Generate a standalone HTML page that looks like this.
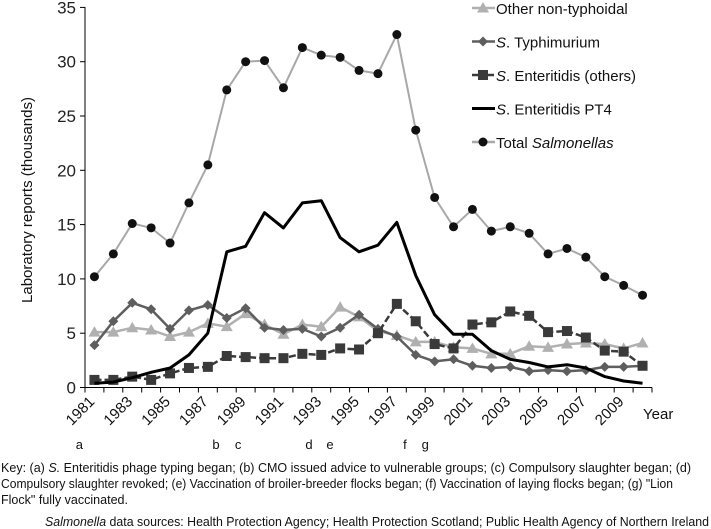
<!DOCTYPE html>
<html><head><meta charset="utf-8"><style>
body{margin:0;background:#fff;width:711px;height:528px;overflow:hidden;font-family:"Liberation Sans",sans-serif;position:relative;}
svg text{font-family:"Liberation Sans",sans-serif;}
.fn{position:absolute;white-space:nowrap;font-size:13px;color:#111;transform-origin:0 0;}
</style></head><body>
<svg id="chart" width="711" height="528" style="position:absolute;left:0;top:0"></svg>
<script>
const years=[1981,1982,1983,1984,1985,1986,1987,1988,1989,1990,1991,1992,1993,1994,1995,1996,1997,1998,1999,2000,2001,2002,2003,2004,2005,2006,2007,2008,2009,2010];
const totalSalmonellas=[10.2,12.3,15.1,14.7,13.3,17.0,20.5,27.4,30.0,30.1,27.6,31.3,30.6,30.4,29.2,28.9,32.5,23.7,17.5,14.8,16.4,14.4,14.8,14.2,12.3,12.8,12.0,10.2,9.4,8.5];
const enteritidisPT4=[0.4,0.5,0.9,1.4,1.8,3.0,5.0,12.5,13.0,16.1,14.7,17.0,17.2,13.8,12.5,13.1,15.2,10.3,6.7,4.9,4.9,3.4,2.6,2.3,1.9,2.1,1.8,1.0,0.6,0.4];
const typhimurium=[3.9,6.1,7.8,7.2,5.4,7.1,7.6,6.4,7.3,5.5,5.3,5.4,4.7,5.5,6.7,5.4,4.7,3.0,2.4,2.6,2.0,1.8,1.9,1.5,1.6,1.5,1.6,1.9,1.9,2.0];
const otherNonTyphoidal=[5.1,5.1,5.5,5.3,4.7,5.1,5.9,5.6,6.8,5.8,4.9,5.8,5.6,7.4,6.5,5.2,4.8,4.2,4.2,3.7,3.6,3.1,3.1,3.8,3.7,4.0,4.1,4.0,3.6,4.1];
const enteritidisOthers=[0.7,0.7,1.0,0.7,1.3,1.8,1.9,2.9,2.8,2.7,2.7,3.1,3.0,3.6,3.5,5.0,7.7,6.1,4.0,3.6,5.8,6.0,7.0,6.6,5.1,5.2,4.6,3.4,3.3,2.0];
const yTicks=[0,5,10,15,20,25,30,35];
const eventLetters=['a','b','c','d','e','f','g'];
const eventYears=[1980.2,1987.43,1988.6,1992.35,1993.46,1997.43,1998.5];

const NS='http://www.w3.org/2000/svg';
const svg=document.getElementById('chart');
const X0=85,STEP=18.9,Y0=387.5,PPU=10.86;
const xs=i=>X0+STEP*(i+0.5);
const xy=yr=>X0+STEP*(yr-1981+0.5);
const ys=v=>Y0-v*PPU;
function mk(tag,attrs,parent){const e=document.createElementNS(NS,tag);for(const k in attrs)e.setAttribute(k,attrs[k]);(parent||svg).appendChild(e);return e;}

const ax=mk('path',{d:`M${X0} 7V${Y0}H${X0+STEP*30}`,stroke:'#000','stroke-width':1,fill:'none'});


yTicks.forEach(t=>{
  mk('line',{x1:X0-5,x2:X0,y1:ys(t),y2:ys(t),stroke:'#000'});
  const tx=mk('text',{x:X0-9,y:ys(t)+6,'text-anchor':'end','font-size':17,fill:'#222'});
  tx.textContent=t;
  
  
});
for(let i=0;i<=30;i++){mk('line',{x1:X0+STEP*i,x2:X0+STEP*i,y1:Y0,y2:Y0+5,stroke:'#000'});}
years.forEach((yr,i)=>{
  if(i%2)return;
  const x=xs(i)+1,y=Y0+15;
  const tx=mk('text',{x:x,y:y,'text-anchor':'end','font-size':15,fill:'#111',transform:`rotate(-45 ${x} ${y})`});
  tx.textContent=yr;
  
  
});
const yl=mk('text',{x:643,y:419,'font-size':15,fill:'#111'});yl.textContent='Year';


const yt=mk('text',{x:0,y:0,'font-size':15,fill:'#111','text-anchor':'middle',transform:'translate(32 200) rotate(-90)'});
yt.textContent='Laboratory reports (thousands)';



eventLetters.forEach((l,i)=>{
  const t=mk('text',{x:xy(eventYears[i]),y:449,'font-size':13,'text-anchor':'middle',fill:'#111'});
  t.textContent=l;
  
  
});

function marker(type,x,y,color,g){
  if(type==='circle')return mk('circle',{cx:x,cy:y,r:4.5,fill:'#111'},g);
  if(type==='square')return mk('rect',{x:x-5,y:y-5,width:10,height:10,fill:'#3a3a3a'},g);
  if(type==='diamond')return mk('path',{d:`M${x} ${y-5}L${x+5} ${y}L${x} ${y+5}L${x-5} ${y}Z`,fill:'#5e5e5e'},g);
  if(type==='triangle')return mk('path',{d:`M${x} ${y-6}L${x+6} ${y+4.5}L${x-6} ${y+4.5}Z`,fill:'#b0b0b0'},g);
}
function series(data,color,width,type,dash,name){
  const g=mk('g',{});
  
  
  let d='';
  data.forEach((v,i)=>{d+=(i?'L':'M')+xs(i).toFixed(1)+' '+ys(v).toFixed(1);});
  const p=mk('path',{d:d,stroke:color,'stroke-width':width,fill:'none','stroke-linejoin':'round'},g);
  if(dash)p.setAttribute('stroke-dasharray',dash);
  if(type)data.forEach((v,i)=>marker(type,xs(i),ys(v),color,g));
}
series(otherNonTyphoidal,'#b0b0b0',2.5,'triangle',null,'series-other-non-typhoidal');
series(typhimurium,'#5e5e5e',2.5,'diamond',null,'series-typhimurium');
series(enteritidisOthers,'#3a3a3a',2.5,'square','7 3','series-enteritidis-others');
series(enteritidisPT4,'#000',3,null,null,'series-enteritidis-pt4');
series(totalSalmonellas,'#a8a8a8',2,'circle',null,'series-total-salmonellas');

const leg=[['Other non-typhoidal','','#b0b0b0','triangle',null],['S','. Typhimurium','#5e5e5e','diamond',null],['S','. Enteritidis (others)','#3a3a3a','square','7 3'],['S','. Enteritidis PT4','#000',null,null],['Total ','Salmonellas','#a8a8a8','circle',null]];
leg.forEach((l,i)=>{
  const y=8+i*33.5;
  const g=mk('g',{});
  
  
  const ln=mk('line',{x1:472,x2:495,y1:y,y2:y,stroke:l[2],'stroke-width':l[3]?2.5:3},g);
  if(l[4])ln.setAttribute('stroke-dasharray','6 2');
  if(l[3])marker(l[3],483,y,l[2],g);
  const t=mk('text',{x:496,y:y+6,'font-size':15,fill:'#111'},g);
  if(i===0){t.textContent=l[0];}
  else if(i===4){t.textContent='Total ';const s=mk('tspan',{'font-style':'italic'},t);s.textContent='Salmonellas';}
  else{const s=mk('tspan',{'font-style':'italic'},t);s.textContent='S';const r=mk('tspan',{},t);r.textContent=l[1];}
});

// fit footnote lines to measured widths
window.addEventListener('load',()=>{
  document.querySelectorAll('.fn').forEach(el=>{
    const w=parseFloat(el.dataset.w);
    const s=w/el.getBoundingClientRect().width;
    el.style.transform='scaleX('+s+')';
  });
});
</script>
<div>
<div class="fn" data-w="690" style="left:1px;top:460px;">Key: (a) <i>S.</i> Enteritidis phage typing began; (b) CMO issued advice to vulnerable groups; (c) Compulsory slaughter began; (d)</div>
<div class="fn" data-w="672" style="left:1px;top:476px;">Compulsory slaughter revoked; (e) Vaccination of broiler-breeder flocks began; (f) Vaccination of laying flocks began; (g) "Lion</div>
<div class="fn" data-w="127" style="left:1px;top:492px;">Flock" fully vaccinated.</div>
</div>
<div class="fn" data-w="664" style="left:45px;top:514px;"><i>Salmonella</i> data sources: Health Protection Agency; Health Protection Scotland; Public Health Agency of Northern Ireland</div>
</body></html>
